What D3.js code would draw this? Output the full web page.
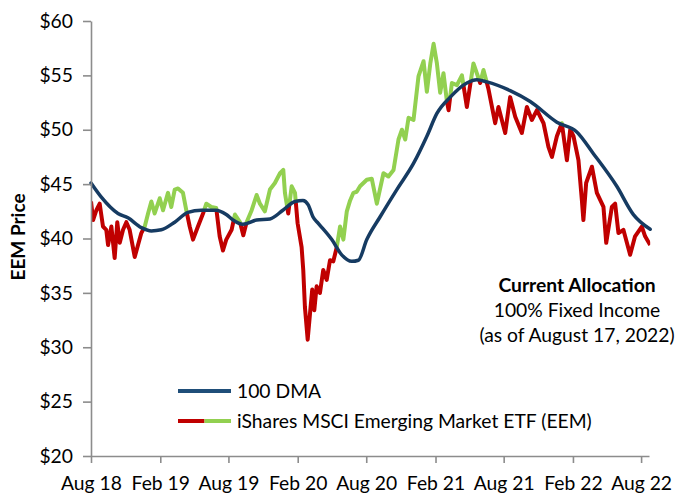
<!DOCTYPE html>
<html>
<head>
<meta charset="utf-8">
<script src="https://cdnjs.cloudflare.com/ajax/libs/d3/7.8.5/d3.min.js"></script>
<style>
  html, body { margin: 0; padding: 0; background: #fff; }
  svg { display: block; font-family: Lato, "Open Sans", sans-serif; }
</style>
</head>
<body>
<div id="chart"></div>
<script>
// EEM price (dates as decimal years)
const priceDates = [
  2018.581, 2018.596, 2018.620, 2018.644, 2018.668, 2018.692, 2018.705, 2018.729, 2018.753, 2018.772,
  2018.790, 2018.814, 2018.838, 2018.862, 2018.899, 2018.923, 2018.947, 2018.972, 2018.996, 2019.020,
  2019.044, 2019.081, 2019.105, 2019.141, 2019.165, 2019.190, 2019.214, 2019.250, 2019.274, 2019.299,
  2019.323, 2019.359, 2019.396, 2019.420, 2019.456, 2019.492, 2019.517, 2019.541, 2019.565, 2019.604,
  2019.628, 2019.665, 2019.689, 2019.713, 2019.750, 2019.786, 2019.810, 2019.846, 2019.883, 2019.919,
  2019.956, 2019.980, 2019.992, 2020.016, 2020.041, 2020.065, 2020.084, 2020.113, 2020.125, 2020.137,
  2020.157, 2020.174, 2020.190, 2020.205, 2020.222, 2020.246, 2020.270, 2020.295, 2020.319, 2020.343,
  2020.368, 2020.392, 2020.416, 2020.441, 2020.465, 2020.489, 2020.513, 2020.537, 2020.586, 2020.622,
  2020.659, 2020.707, 2020.743, 2020.780, 2020.816, 2020.841, 2020.865, 2020.889, 2020.925, 2020.961,
  2020.998, 2021.022, 2021.047, 2021.071, 2021.095, 2021.119, 2021.143, 2021.168, 2021.180, 2021.204,
  2021.241, 2021.277, 2021.313, 2021.361, 2021.410, 2021.434, 2021.459, 2021.471, 2021.519, 2021.543,
  2021.592, 2021.628, 2021.665, 2021.713, 2021.750, 2021.786, 2021.823, 2021.871, 2021.907, 2021.932,
  2021.968, 2022.004, 2022.041, 2022.065, 2022.089, 2022.125, 2022.150, 2022.161, 2022.181, 2022.223,
  2022.259, 2022.307, 2022.327, 2022.368, 2022.392, 2022.416, 2022.452, 2022.501, 2022.537, 2022.586,
  2022.610, 2022.647
];
const priceValues = [
  43.4, 41.7, 42.6, 43.2, 41.1, 40.8, 39.4, 41.1, 38.2, 41.5,
  39.6, 40.8, 41.5, 40.8, 38.3, 39.4, 40.5, 41.1, 42.3, 43.4,
  42.3, 43.7, 42.6, 44.2, 42.9, 44.5, 44.6, 44.2, 42.6, 41.1,
  39.9, 41.1, 42.3, 43.2, 42.9, 42.8, 40.2, 38.9, 39.9, 40.8,
  42.2, 41.5, 40.3, 41.5, 42.6, 44.0, 43.2, 42.5, 44.5, 45.1,
  46.0, 46.3, 44.2, 42.3, 44.8, 44.2, 41.4, 39.2, 37.1, 33.7,
  30.7, 33.1, 35.3, 33.4, 35.6, 35.0, 37.1, 36.2, 38.0, 37.9,
  39.2, 41.1, 39.9, 42.5, 43.5, 44.2, 44.3, 44.8, 45.4, 45.5,
  43.2, 46.0, 45.7, 46.3, 49.1, 50.0, 49.1, 51.1, 50.9, 54.9,
  56.3, 53.5, 56.1, 57.9, 56.1, 53.4, 55.2, 52.6, 51.8, 54.3,
  54.1, 55.0, 52.1, 56.1, 54.3, 55.5, 54.3, 53.7, 50.6, 52.1,
  49.7, 53.0, 51.2, 49.7, 52.1, 50.9, 51.8, 50.6, 48.4, 47.5,
  49.4, 50.6, 47.2, 50.0, 49.4, 47.2, 43.5, 41.7, 45.1, 46.6,
  44.2, 42.9, 39.6, 42.9, 43.2, 40.5, 40.8, 38.5, 40.2, 41.1,
  40.2, 39.4
];

// 100 day moving average
const dmaDates = [
  2018.581, 2018.656, 2018.777, 2018.850, 2018.947, 2019.020, 2019.092, 2019.190, 2019.286, 2019.383,
  2019.490, 2019.565, 2019.614, 2019.686, 2019.786, 2019.883, 2019.977, 2020.065, 2020.123, 2020.161,
  2020.195, 2020.234, 2020.332, 2020.404, 2020.477, 2020.525, 2020.586, 2020.683, 2020.804, 2020.925,
  2021.022, 2021.095, 2021.192, 2021.313, 2021.386, 2021.459, 2021.628, 2021.774, 2021.968, 2022.113,
  2022.234, 2022.404, 2022.525, 2022.647
];
const dmaValues = [
  45.1, 43.8, 42.3, 41.9, 41.0, 40.7, 40.8, 41.5, 42.4, 42.6,
  42.6, 42.2, 41.7, 41.3, 41.7, 41.8, 42.6, 43.4, 43.5, 43.1,
  42.0, 41.4, 39.9, 38.5, 37.9, 38.0, 39.9, 42.0, 44.5, 46.9,
  49.4, 51.5, 53.0, 54.3, 54.6, 54.4, 53.6, 52.6, 50.7, 49.8,
  47.8, 44.8, 42.2, 40.85
];

const yTicks = [20, 25, 30, 35, 40, 45, 50, 55, 60];
const xTickLabels = ['Aug 18', 'Feb 19', 'Aug 19', 'Feb 20', 'Aug 20', 'Feb 21', 'Aug 21', 'Feb 22', 'Aug 22'];
const noteLines = ['Current Allocation', '100% Fixed Income', '(as of August 17, 2022)'];
const legendLabels = ['100 DMA', 'iShares MSCI Emerging Market ETF (EEM)'];

const dmaColor = '#163b62';
const upColor = '#92d050';
const downColor = '#c00000';
const axisColor = '#8c8c8c';
const fontSize = '19.3px';

function toDate(t) {
  const yr = Math.floor(t);
  const a = new Date(yr, 0, 1).getTime();
  const b = new Date(yr + 1, 0, 1).getTime();
  return new Date(a + (t - yr) * (b - a));
}

const price = priceDates.map((t, i) => ({ date: toDate(t), value: priceValues[i] }));
const dma = dmaDates.map((t, i) => ({ date: toDate(t), value: dmaValues[i] }));

const width = 678, height = 493;
const svg = d3.select('#chart').append('svg')
  .attr('width', width)
  .attr('height', height);

const x = d3.scaleTime()
  .domain([new Date(2018, 7, 1), new Date(2022, 7, 22)])
  .range([91, 649]);
const y = d3.scaleLinear()
  .domain([20, 60])
  .range([456, 21]);

// clip areas above / below the moving average
const defs = svg.append('defs');
defs.append('clipPath').attr('id', 'above')
  .append('path')
  .attr('d', d3.area().curve(d3.curveMonotoneX)
    .x(d => x(d.date)).y0(0).y1(d => y(d.value))(dma));
defs.append('clipPath').attr('id', 'below')
  .append('path')
  .attr('d', d3.area().curve(d3.curveMonotoneX)
    .x(d => x(d.date)).y0(height).y1(d => y(d.value))(dma));

const priceLine = d3.line().x(d => x(d.date)).y(d => y(d.value));

svg.append('path')
  .datum(price)
  .attr('clip-path', 'url(#below)')
  .attr('fill', 'none')
  .attr('stroke', downColor)
  .attr('stroke-width', 4)
  .attr('stroke-linejoin', 'round')
  .attr('d', priceLine);

svg.append('path')
  .datum(price)
  .attr('clip-path', 'url(#above)')
  .attr('fill', 'none')
  .attr('stroke', upColor)
  .attr('stroke-width', 4)
  .attr('stroke-linejoin', 'round')
  .attr('d', priceLine);

svg.append('path')
  .datum(dma)
  .attr('fill', 'none')
  .attr('stroke', dmaColor)
  .attr('stroke-width', 3.5)
  .attr('stroke-linecap', 'round')
  .attr('d', d3.line().curve(d3.curveMonotoneX).x(d => x(d.date)).y(d => y(d.value)));

// axes
const yAxis = svg.append('g')
  .attr('transform', 'translate(91,0)')
  .call(d3.axisLeft(y).tickValues(yTicks).tickSizeInner(8).tickSizeOuter(0).tickPadding(10)
    .tickFormat(d => '$' + d));

const xTickDates = d3.range(9).map(i => new Date(2018 + Math.floor((7 + i * 6) / 12), (7 + i * 6) % 12, 1));
const xAxis = svg.append('g')
  .attr('transform', 'translate(0,456)')
  .call(d3.axisBottom(x).tickValues(xTickDates).tickSizeInner(7).tickSizeOuter(0).tickPadding(13)
    .tickFormat((d, i) => xTickLabels[i]));

[yAxis, xAxis].forEach(g => {
  g.select('.domain').attr('stroke', axisColor).attr('stroke-width', 1.6);
  g.selectAll('.tick line').attr('stroke', axisColor).attr('stroke-width', 1.6);
  g.selectAll('.tick text').attr('fill', '#000').style('font-size', fontSize)
    .style('font-family', 'Lato, sans-serif');
});

svg.append('text')
  .attr('transform', 'translate(25,237) rotate(-90)')
  .attr('text-anchor', 'middle')
  .style('font-size', '19px')
  .style('font-weight', 'bold')
  .text('EEM Price');

// note
svg.selectAll('.note')
  .data(noteLines)
  .join('text')
  .attr('class', 'note')
  .attr('x', 577)
  .attr('y', (d, i) => 292 + i * 25)
  .attr('text-anchor', 'middle')
  .style('font-size', fontSize)
  .style('font-weight', (d, i) => i === 0 ? 'bold' : 'normal')
  .text(d => d);

// legend
const legend = svg.append('g');
legend.append('line')
  .attr('x1', 178).attr('x2', 231).attr('y1', 391).attr('y2', 391)
  .attr('stroke', '#1f4e79').attr('stroke-width', 4);
legend.append('line')
  .attr('x1', 178).attr('x2', 204.5).attr('y1', 421).attr('y2', 421)
  .attr('stroke', downColor).attr('stroke-width', 4);
legend.append('line')
  .attr('x1', 204.5).attr('x2', 231).attr('y1', 421).attr('y2', 421)
  .attr('stroke', upColor).attr('stroke-width', 4);
legend.selectAll('.leg')
  .data(legendLabels)
  .join('text')
  .attr('class', 'leg')
  .attr('x', 237)
  .attr('y', (d, i) => 391 + i * 30)
  .attr('dy', '0.35em')
  .style('font-size', fontSize)
  .text(d => d);
</script>
</body>
</html>
